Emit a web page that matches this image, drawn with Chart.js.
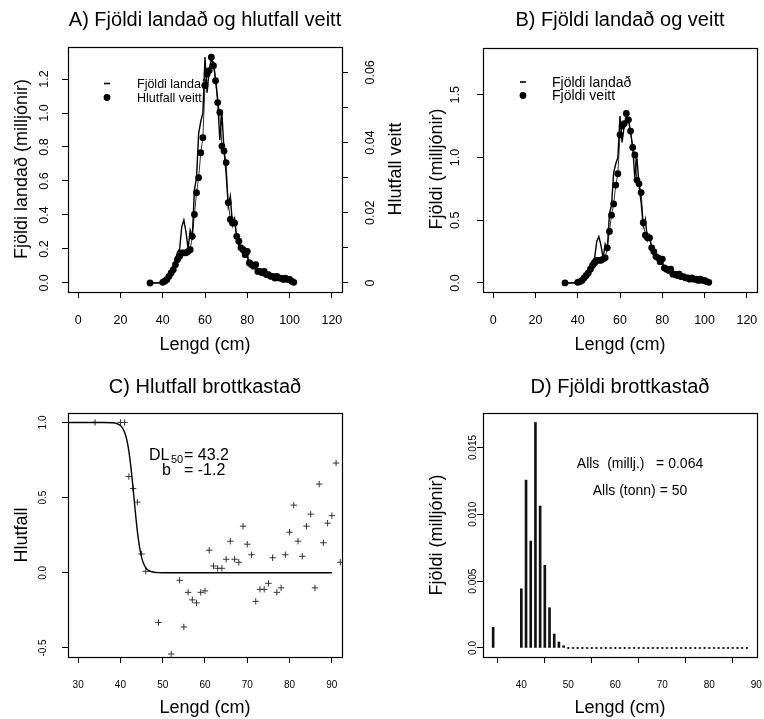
<!DOCTYPE html>
<html>
<head>
<meta charset="utf-8">
<script src="https://cdn.jsdelivr.net/npm/chart.js@4.4.0/dist/chart.umd.min.js"></script>
<style>
  body { margin: 0; background: #fff; }
  #wrap { position: relative; width: 764px; height: 719px; }
  #wrap canvas { position: absolute; left: 0; top: 0; }
</style>
</head>
<body>
<div id="wrap">
  <canvas id="panelA" width="764" height="719"></canvas>
  <canvas id="panelB" width="764" height="719"></canvas>
  <canvas id="panelC" width="764" height="719"></canvas>
  <canvas id="panelD" width="764" height="719"></canvas>
</div>
<script>
const FONT = '"Liberation Sans", Arial, Helvetica, sans-serif';

// length bins (cm) for landed / measured fish, panels A and B
const lengthCm = [34, 40, 41, 42, 43, 44, 45, 46, 47, 48, 49, 50, 51, 52, 53, 54, 55, 56, 57, 58, 59,
  60, 61, 62, 63, 64, 65, 66, 67, 68, 69, 70, 71, 72, 73, 74, 75, 76, 77, 78, 79, 80, 81, 82, 83, 84,
  85, 86, 87, 88, 89, 90, 91, 92, 93, 94, 95, 96, 97, 98, 99, 100, 101, 102];
// Fjöldi landað (millions)
const landedMillions = [0, 0.00, 0.01, 0.02, 0.04, 0.06, 0.09, 0.14, 0.18, 0.20, 0.33, 0.37, 0.30, 0.20,
  0.31, 0.27, 0.55, 0.62, 0.88, 0.95, 1.00, 1.33, 1.12, 1.26, 1.31, 1.30, 1.20, 1.08, 0.84, 1.00, 0.78,
  0.64, 0.45, 0.51, 0.34, 0.38, 0.27, 0.22, 0.22, 0.16, 0.19, 0.15, 0.12, 0.13, 0.09, 0.10, 0.08, 0.06,
  0.07, 0.05, 0.06, 0.04, 0.05, 0.04, 0.03, 0.04, 0.02, 0.03, 0.02, 0.02, 0.01, 0.02, 0.01, 0.00];
// Hlutfall veitt (proportion), panel A
const caughtProportion = [0, 0.0002, 0.0005, 0.0010, 0.0019, 0.0029, 0.0038, 0.0052, 0.0067, 0.0076,
  0.0086, 0.0086, 0.0086, 0.0090, 0.0095, 0.0133, 0.0195, 0.0257, 0.0300, 0.0371, 0.0414, 0.0562,
  0.0595, 0.0605, 0.0643, 0.0619, 0.0576, 0.0514, 0.0486, 0.0390, 0.0376, 0.0343, 0.0229, 0.0181,
  0.0171, 0.0171, 0.0133, 0.0119, 0.0100, 0.0095, 0.0081, 0.0090, 0.0057, 0.0052, 0.0048, 0.0052,
  0.0033, 0.0033, 0.0029, 0.0033, 0.0024, 0.0024, 0.0019, 0.0019, 0.0014, 0.0019, 0.0014, 0.0014,
  0.0010, 0.0014, 0.0010, 0.0010, 0.0005, 0.0002];
// Fjöldi veitt (millions), panel B
const caughtMillions = [0, 0.005, 0.01, 0.02, 0.04, 0.06, 0.08, 0.11, 0.14, 0.16, 0.18, 0.18, 0.18,
  0.19, 0.20, 0.28, 0.41, 0.54, 0.63, 0.78, 0.87, 1.18, 1.25, 1.27, 1.35, 1.30, 1.21, 1.08, 1.02, 0.82,
  0.79, 0.72, 0.48, 0.38, 0.36, 0.36, 0.28, 0.25, 0.21, 0.20, 0.17, 0.19, 0.12, 0.11, 0.10, 0.11,
  0.07, 0.07, 0.06, 0.07, 0.05, 0.05, 0.04, 0.04, 0.03, 0.04, 0.03, 0.03, 0.02, 0.03, 0.02, 0.02,
  0.01, 0.005];

// panel C: observed discard proportion and fitted ogive
const discardLength = [34, 40, 41, 42, 43, 44, 45, 46, 49, 52, 54, 55, 56, 57, 58, 59, 60, 61, 62, 63,
  64, 65, 66, 67, 68, 69, 70, 71, 72, 73, 74, 75, 76, 77, 78, 79, 80, 81, 82, 83, 84, 85, 86, 87, 88,
  89, 90, 91, 92];
const discardProportion = [1.0, 1.0, 1.0, 0.64, 0.56, 0.47, 0.125, 0.01, -0.33, -0.54, -0.05, -0.36,
  -0.13, -0.18, -0.20, -0.13, -0.12, 0.15, 0.045, 0.03, 0.03, 0.09, 0.21, 0.09, 0.07, 0.31, 0.19, 0.12,
  -0.19, -0.11, -0.11, -0.07, 0.10, -0.13, -0.10, 0.12, 0.27, 0.45, 0.21, 0.11, 0.31, 0.39, -0.10,
  0.59, 0.20, 0.33, 0.38, 0.73, 0.07];
const ogiveLength = [27, 36, 38, 39, 40, 40.5, 41, 41.5, 42, 42.5, 43, 43.5, 44, 44.5, 45, 45.5, 46,
  46.5, 47, 48, 49, 50, 52, 55, 90];
const ogiveProportion = [1.0, 0.9998, 0.998, 0.9936, 0.979, 0.962, 0.933, 0.885, 0.808, 0.698, 0.560,
  0.411, 0.277, 0.174, 0.103, 0.0595, 0.0336, 0.0187, 0.0104, 0.0032, 0.001, 0.0003, 0.00003, 0, 0];

// panel D: discarded numbers (millions)
const discardCountLength = [34, 40, 41, 42, 43, 44, 45, 46, 47, 48, 49, 50, 51, 52, 53, 54, 55, 56, 57,
  58, 59, 60, 61, 62, 63, 64, 65, 66, 67, 68, 69, 70, 71, 72, 73, 74, 75, 76, 77, 78, 79, 80, 81, 82,
  83, 84, 85, 86, 87, 88];
const discardCountMillions = [0.00154, 0.00443, 0.01256, 0.0080, 0.01687, 0.01062, 0.00619, 0.00301,
  0.00104, 0.00045, 0.00017, 0, 0, 0, 0, 0, 0, 0, 0, 0, 0, 0, 0, 0, 0, 0, 0, 0, 0, 0, 0, 0, 0, 0, 0,
  0, 0, 0, 0, 0, 0, 0, 0, 0, 0, 0, 0, 0, 0, 0];

// tick values and labels
const lengthTicks = [0, 20, 40, 60, 80, 100, 120];
const landedTicks = [0, 0.2, 0.4, 0.6, 0.8, 1.0, 1.2];
const landedTickLabels = ['0.0', '0.2', '0.4', '0.6', '0.8', '1.0', '1.2'];
const propTicks = [0, 0.01, 0.02, 0.03, 0.04, 0.05, 0.06];
const propTickLabels = ['0', '', '0.02', '', '0.04', '', '0.06'];
const countTicks = [0, 0.5, 1.0, 1.5];
const countTickLabels = ['0.0', '0.5', '1.0', '1.5'];
const discardLengthTicks = [30, 40, 50, 60, 70, 80, 90];
const discardPropTicks = [-0.5, 0, 0.5, 1.0];
const discardPropTickLabels = ['-0.5', '0.0', '0.5', '1.0'];
const dLengthTicks = [40, 50, 60, 70, 80, 90];
const dCountTicks = [0, 0.005, 0.010, 0.015];
const dCountTickLabels = ['0.0', '0.005', '0.010', '0.015'];

const W = 764, H = 719;

function axis(position, min, max, ticks) {
  return {
    type: 'linear', position: position, min: min, max: max,
    afterBuildTicks: (s) => { s.ticks = ticks.map(v => ({ value: v })); },
    afterFit: (s) => { if (s.isHorizontal()) s.height = 0; else s.width = 0; },
    ticks: { display: false },
    grid: { drawOnChartArea: false, drawTicks: true, tickLength: 6, color: '#000', lineWidth: 1 },
    border: { display: false },
  };
}

function text(ctx, str, x, y, size, opts) {
  opts = opts || {};
  ctx.save();
  ctx.font = (opts.weight || 'normal') + ' ' + size + 'px ' + FONT;
  ctx.fillStyle = '#000';
  ctx.textAlign = opts.align || 'center';
  ctx.textBaseline = 'middle';
  ctx.translate(x, y);
  if (opts.rotate) ctx.rotate(-Math.PI / 2);
  ctx.fillText(str, 0, 0);
  ctx.restore();
}

function xLabels(ctx, scale, values, labels, y, size) {
  values.forEach((v, i) => text(ctx, labels[i], scale.getPixelForValue(v), y, size));
}
function yLabels(ctx, scale, values, labels, x, size) {
  values.forEach((v, i) => { if (labels[i]) text(ctx, labels[i], x, scale.getPixelForValue(v), size, { rotate: true }); });
}

function frame(chart) {
  const a = chart.chartArea, ctx = chart.ctx;
  ctx.save();
  ctx.strokeStyle = '#000';
  ctx.lineWidth = 1.2;
  ctx.strokeRect(Math.round(a.left) + 0.5, Math.round(a.top) + 0.5, Math.round(a.right - a.left), Math.round(a.bottom - a.top));
  ctx.restore();
}

function legendItems(ctx, x, y0, gap, labels, size, offset) {
  ctx.save();
  ctx.strokeStyle = '#000';
  ctx.lineWidth = 1.6;
  ctx.beginPath();
  ctx.moveTo(x - 3, y0); ctx.lineTo(x + 3, y0);
  ctx.stroke();
  ctx.fillStyle = '#000';
  ctx.beginPath();
  ctx.arc(x, y0 + gap, 3.4, 0, Math.PI * 2);
  ctx.fill();
  ctx.restore();
  text(ctx, labels[0], x + offset, y0 + 1, size, { align: 'left' });
  text(ctx, labels[1], x + offset, y0 + gap + 1, size, { align: 'left' });
}

function pad(l, t, r, b) { return { left: l, top: t, right: W - r, bottom: H - b }; }

const common = {
  responsive: false, animation: false, events: [],
  plugins: { legend: { display: false }, tooltip: { enabled: false } },
};

function xy(xs, ys) { return xs.map((x, i) => ({ x: x, y: ys[i] })); }

const TITLE = 20, LAB = 18, TICK = 12.5, SMALL = 10;

// ---- A) ----
new Chart(document.getElementById('panelA'), {
  type: 'scatter',
  data: {
    datasets: [
      { data: xy(lengthCm, landedMillions), yAxisID: 'y', showLine: true, borderColor: '#000',
        borderWidth: 1.4, pointRadius: 0 },
      { data: xy(lengthCm, caughtProportion), yAxisID: 'y2', showLine: true, borderColor: '#000',
        borderWidth: 0.8, pointRadius: 3.4, pointBackgroundColor: '#000', pointBorderWidth: 0 },
    ],
  },
  options: Object.assign({}, common, {
    layout: { padding: pad(68, 47, 342, 292) },
    scales: {
      x: axis('bottom', -4.8, 124.8, lengthTicks),
      y: axis('left', -0.0534, 1.3885, landedTicks),
      y2: axis('right', -0.00257, 0.06722, propTicks),
    },
  }),
  plugins: [{
    id: 'rA',
    beforeDatasetsDraw(chart) {
      legendItems(chart.ctx, 107, 83.5, 14, ['Fjöldi landað', 'Hlutfall veitt'], 12.5, 30);
    },
    afterDraw(chart) {
      const ctx = chart.ctx, s = chart.scales;
      frame(chart);
      xLabels(ctx, s.x, lengthTicks, lengthTicks.map(String), 321, TICK);
      yLabels(ctx, s.y, landedTicks, landedTickLabels, 45, TICK);
      yLabels(ctx, s.y2, propTicks, propTickLabels, 371, TICK);
      text(ctx, 'A) Fjöldi landað og hlutfall veitt', 205, 20, TITLE);
      text(ctx, 'Lengd (cm)', 205, 345, LAB);
      text(ctx, 'Fjöldi landað (milljónir)', 22, 169, LAB, { rotate: true });
      text(ctx, 'Hlutfall veitt', 396, 169, LAB, { rotate: true });
    },
  }],
});

// ---- B) ----
new Chart(document.getElementById('panelB'), {
  type: 'scatter',
  data: {
    datasets: [
      { data: xy(lengthCm, landedMillions), showLine: true, borderColor: '#000',
        borderWidth: 1.4, pointRadius: 0 },
      { data: xy(lengthCm, caughtMillions), showLine: true, borderColor: '#000',
        borderWidth: 0.8, pointRadius: 3.4, pointBackgroundColor: '#000', pointBorderWidth: 0 },
    ],
  },
  options: Object.assign({}, common, {
    layout: { padding: pad(483, 48, 757, 292) },
    scales: {
      x: axis('bottom', -4.8, 124.8, lengthTicks),
      y: axis('left', -0.072, 1.872, countTicks),
    },
  }),
  plugins: [{
    id: 'rB',
    beforeDatasetsDraw(chart) {
      legendItems(chart.ctx, 523, 82, 13.5, ['Fjöldi landað', 'Fjöldi veitt'], 14, 29);
    },
    afterDraw(chart) {
      const ctx = chart.ctx, s = chart.scales;
      frame(chart);
      xLabels(ctx, s.x, lengthTicks, lengthTicks.map(String), 321, TICK);
      yLabels(ctx, s.y, countTicks, countTickLabels, 456, TICK);
      text(ctx, 'B) Fjöldi landað og veitt', 620, 20, TITLE);
      text(ctx, 'Lengd (cm)', 620, 345, LAB);
      text(ctx, 'Fjöldi (milljónir)', 437, 169, LAB, { rotate: true });
    },
  }],
});

// ---- C) ----
new Chart(document.getElementById('panelC'), {
  type: 'scatter',
  data: {
    datasets: [
      { data: xy(ogiveLength, ogiveProportion), showLine: true, borderColor: '#000', borderWidth: 1.4,
        pointRadius: 0, cubicInterpolationMode: 'monotone' },
      { data: xy(discardLength, discardProportion), pointStyle: 'cross', pointRadius: 3.2,
        borderColor: '#333', pointBorderWidth: 1, borderWidth: 1 },
    ],
  },
  options: Object.assign({}, common, {
    layout: { padding: pad(68, 413, 342, 657) },
    scales: {
      x: axis('bottom', 27.6, 92.4, discardLengthTicks),
      y: axis('left', -0.56, 1.0627, discardPropTicks),
    },
  }),
  plugins: [{
    id: 'rC',
    afterDraw(chart) {
      const ctx = chart.ctx, s = chart.scales;
      frame(chart);
      xLabels(ctx, s.x, discardLengthTicks, discardLengthTicks.map(String), 685, SMALL);
      yLabels(ctx, s.y, discardPropTicks, discardPropTickLabels, 43, SMALL);
      text(ctx, 'C) Hlutfall brottkastað', 205, 387, TITLE);
      text(ctx, 'Lengd (cm)', 205, 708, LAB);
      text(ctx, 'Hlutfall', 22, 535, LAB, { rotate: true });
      // DL50 / b annotation
      text(ctx, 'DL', 149, 456, 16, { align: 'left' });
      text(ctx, '50', 171, 460, 11, { align: 'left' });
      text(ctx, '= 43.2', 184, 456, 16, { align: 'left' });
      text(ctx, 'b', 162, 471, 16, { align: 'left' });
      text(ctx, '= -1.2', 184, 471, 16, { align: 'left' });
    },
  }],
});

// ---- D) ----
new Chart(document.getElementById('panelD'), {
  type: 'bar',
  data: {
    datasets: [
      { type: 'bar', data: xy(discardCountLength, discardCountMillions), backgroundColor: '#111',
        barThickness: 2, borderWidth: 0 },
      { type: 'scatter', data: xy(discardCountLength, discardCountMillions).filter(p => p.y === 0),
        pointRadius: 1, pointBackgroundColor: '#111', pointBorderWidth: 0 },
    ],
  },
  options: Object.assign({}, common, {
    layout: { padding: pad(483, 413, 757, 657) },
    scales: {
      x: Object.assign(axis('bottom', 31.84, 90.16, dLengthTicks), { offset: false }),
      y: axis('left', -0.000676, 0.01758, dCountTicks),
    },
  }),
  plugins: [{
    id: 'rD',
    afterDraw(chart) {
      const ctx = chart.ctx, s = chart.scales;
      frame(chart);
      xLabels(ctx, s.x, dLengthTicks, dLengthTicks.map(String), 685, SMALL);
      yLabels(ctx, s.y, dCountTicks, dCountTickLabels, 473, SMALL);
      text(ctx, 'D) Fjöldi brottkastað', 620, 387, TITLE);
      text(ctx, 'Lengd (cm)', 620, 708, LAB);
      text(ctx, 'Fjöldi (milljónir)', 437, 535, LAB, { rotate: true });
      text(ctx, 'Alls  (millj.)   = 0.064', 640, 464, 14);
      text(ctx, 'Alls (tonn) = 50', 640, 491, 14);
    },
  }],
});
</script>
</body>
</html>
